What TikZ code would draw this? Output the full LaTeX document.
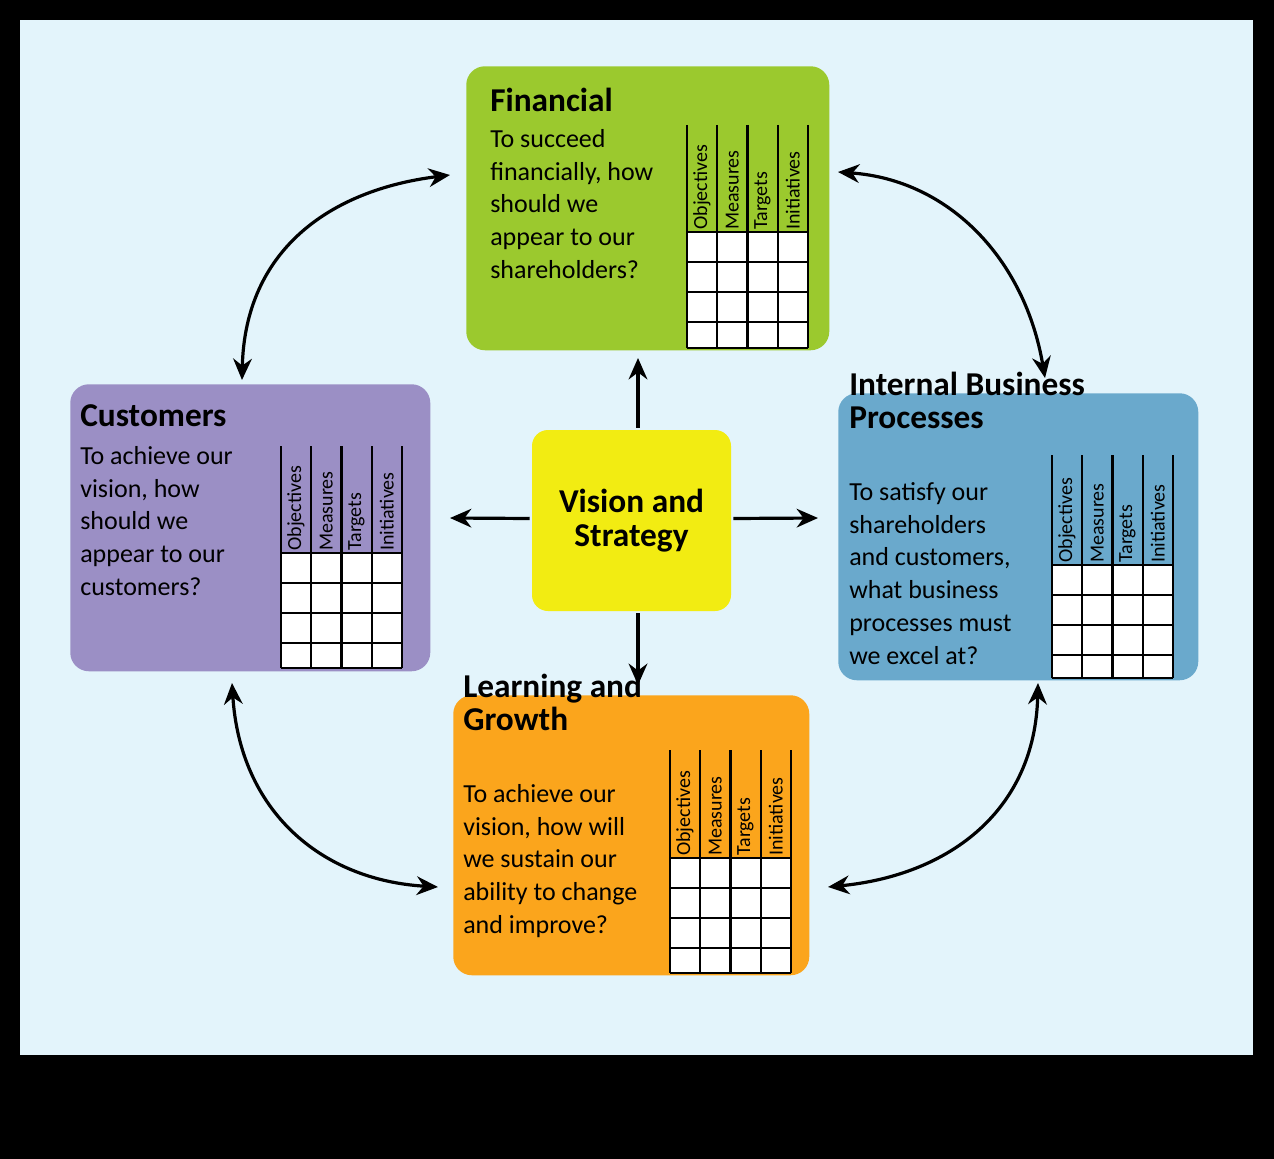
\documentclass[tikz,border=0pt]{standalone}
\usepackage{fontspec}
\setmainfont{Carlito}
\usetikzlibrary{arrows.meta}
\definecolor{bgblue}{HTML}{E3F4FB}
\definecolor{cgreen}{HTML}{9BC92E}
\definecolor{cpurple}{HTML}{9B8FC5}
\definecolor{cblue}{HTML}{6AA9CC}
\definecolor{corange}{HTML}{FBA51C}
\definecolor{cyellow}{HTML}{F2EC12}
\newcommand{\bscgrid}[4]{% x0, ytop, yhead, ybot
  \fill[white] (#1,#3) rectangle ({#1+121},#4);
  \foreach \i in {0,1,2,3,4}{\draw[gridline] ({#1+\i*30.25},#2) -- ({#1+\i*30.25},#4);}
  \foreach \j in {0,30,60,90}{\draw[gridline] (#1,{#3+\j}) -- ({#1+121},{#3+\j});}
  \draw[gridline] (#1,#4) -- ({#1+121},#4);
  \foreach \t [count=\k from 0] in {Objectives,Measures,Targets,Initiatives}{
    \node[hdr] at ({#1+15+\k*30.25},{#3-2}) {\t};}
}
\begin{document}
\begin{tikzpicture}[x=0.75pt,y=-0.75pt,
  box/.style={rounded corners=14pt,inner sep=0pt},
  ttl/.style={anchor=base west,inner sep=0pt,font=\fontsize{25}{24.5}\selectfont\bfseries,align=left},
  body/.style={anchor=north west,inner sep=0pt,font=\fontsize{19.5}{24.6}\selectfont,align=left},
  hdr/.style={rotate=90,anchor=west,inner sep=0pt,font=\fontsize{15}{15}\selectfont},
  gridline/.style={line width=1.6pt,black},
  arr/.style={line width=2.4pt,-{Stealth[length=16pt,width=14pt]}},
  barr/.style={line width=2.4pt,{Stealth[length=16pt,width=14pt]}-{Stealth[length=16pt,width=14pt]}}]
\useasboundingbox (0,0) rectangle (1274,1159);
\fill[black] (0,0) rectangle (1274,1159);
\fill[bgblue] (20,20) rectangle (1253,1055);

% Financial
\node[box,fill=cgreen,minimum width=363*0.75pt,minimum height=284*0.75pt,anchor=north west] (fin) at (466,66) {};
\node[ttl] (fint) at (490,112) {Financial};
\node[body] (finb) at (490,129) {To succeed\\financially, how\\should we\\appear to our\\shareholders?};
\bscgrid{687}{125}{232}{348}

% Customers
\node[box,fill=cpurple,minimum width=360*0.75pt,minimum height=287*0.75pt,anchor=north west] (cus) at (70,384) {};
\node[ttl] (cust) at (80,426) {Customers};
\node[body] (cusb) at (80,446) {To achieve our\\vision, how\\should we\\appear to our\\customers?};
\bscgrid{281}{446}{553}{668}

% Internal
\node[box,fill=cblue,minimum width=360*0.75pt,minimum height=287*0.75pt,anchor=north west] (ibp) at (838,393) {};
\node[ttl] (ibpt) at (849,428) {Internal Business\\Processes};
\node[body] (ibpb) at (849,482) {To satisfy our\\shareholders\\and customers,\\what business\\processes must\\we excel at?};
\bscgrid{1052}{455}{565}{678}

% Learning
\node[box,fill=corange,minimum width=356*0.75pt,minimum height=280*0.75pt,anchor=north west] (lg) at (453,695) {};
\node[ttl] (lgt) at (463,730) {Learning and\\Growth};
\node[body] (lgb) at (463,784) {To achieve our\\vision, how will\\we sustain our\\ability to change\\and improve?};
\bscgrid{670}{750}{858}{973}

% Vision
\node[box,fill=cyellow,minimum width=199*0.75pt,minimum height=181*0.75pt,rounded corners=12pt,
  font=\fontsize{25}{25}\selectfont\bfseries,align=center] (vis) at (631.5,520.5) {Vision and\\Strategy};

% straight arrows
\draw[arr] (vis.north -| 638,0) ++(0,-2) coordinate (v1) (v1) -- (638,358) coordinate (f1);
\draw[arr] (638,613) coordinate (v2) -- (638,685) coordinate (l1);
\draw[arr] (vis.west) ++(-2,-2) coordinate (v3) (v3) -- (450,518) coordinate (c1);
\draw[arr] (vis.east) ++(2,-2) coordinate (v4) (v4) -- (818,518) coordinate (i1);

% curved arrows
\coordinate (a1) at (242,380); \coordinate (a2) at (450,175);
\coordinate (b1) at (838,172); \coordinate (b2) at (1045,378);
\coordinate (c2) at (1038,683); \coordinate (c3) at (828,887);
\coordinate (d1) at (438,887); \coordinate (d2) at (232,683);
\draw[barr] (a1) .. controls (245,250) and (330,190) .. (a2);
\draw[barr] (b1) .. controls (950,180) and (1025,260) .. (b2);
\draw[barr] (c2) .. controls (1035,810) and (950,875) .. (c3);
\draw[barr] (d1) .. controls (320,880) and (240,810) .. (d2);
\end{tikzpicture}
\end{document}
